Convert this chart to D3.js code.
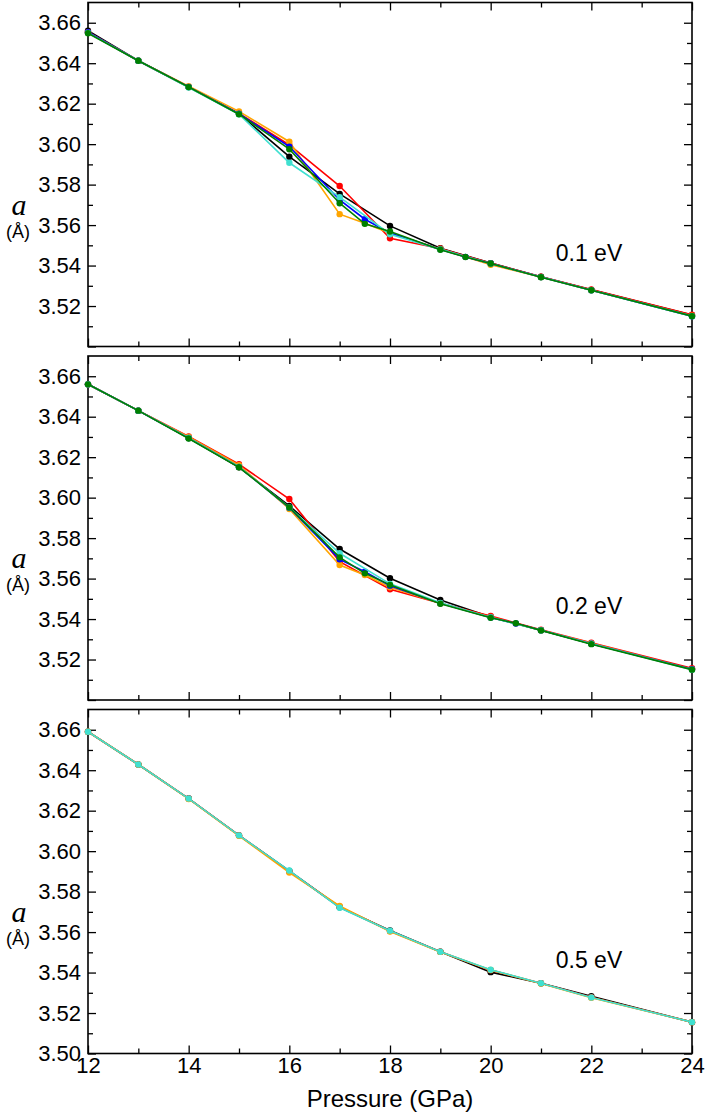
<!DOCTYPE html>
<html>
<head>
<meta charset="utf-8">
<script src="https://cdn.jsdelivr.net/npm/d3@7"></script>
<style>
  body { margin: 0; background: #fff; }
  svg { display: block; }
  .tick text { font-family: "Liberation Sans", Arial, sans-serif; font-size: 22px; fill: #000; }
  .tick line { stroke: #000; stroke-width: 1.3; }
  .domain { display: none; }
</style>
</head>
<body>
<svg id="chart"></svg>
<script>
// panel layout
var width = 706, height = 1114;
var left = 88, plotW = 604;
var tops = [2.5, 356, 709.5];
var plotH = 344;

// axis ticks
var xTicks = [12, 14, 16, 18, 20, 22, 24];
var xMinor = [13, 15, 17, 19, 21, 23];
var yTicks = [3.50, 3.52, 3.54, 3.56, 3.58, 3.60, 3.62, 3.64, 3.66];
var yMinor = [3.51, 3.53, 3.55, 3.57, 3.59, 3.61, 3.63, 3.65];

// pressure grids (GPa)
var pFull = [12, 13, 14, 15, 16, 17, 18, 19, 20, 21, 22, 24];
var pOr1  = [12, 13, 14, 15, 16, 17, 17.5, 18, 19, 20, 21, 22, 24];
var pFine1 = [12, 13, 14, 15, 16, 17, 17.5, 18, 19, 19.5, 20, 21, 22, 24];
var pFine2 = [12, 13, 14, 15, 16, 17, 17.5, 18, 19, 20, 20.5, 21, 22, 24];

// 0.1 eV
var black1  = [3.6561, 3.6412, 3.6282, 3.6150, 3.5938, 3.5754, 3.5596, 3.5486, 3.5412, 3.5345, 3.5280, 3.5155];
var red1    = [3.6553, 3.6412, 3.6282, 3.6152, 3.5996, 3.5793, 3.5535, 3.5484, 3.5412, 3.5345, 3.5282, 3.5157];
var orange1 = [3.6553, 3.6412, 3.6286, 3.6162, 3.6012, 3.5654, 3.5609, 3.5560, 3.5482, 3.5404, 3.5343, 3.5278, 3.5152];
var blue1   = [3.6553, 3.6412, 3.6283, 3.6150, 3.5988, 3.5724, 3.5629, 3.5561, 3.5480, 3.5443, 3.5410, 3.5343, 3.5278, 3.5150];
var cyan1   = [3.6550, 3.6412, 3.6280, 3.6148, 3.5908, 3.5738, 3.5555, 3.5480, 3.5410, 3.5343, 3.5278, 3.5150];
var green1  = [3.6548, 3.6412, 3.6282, 3.6148, 3.5975, 3.5708, 3.5606, 3.5568, 3.5478, 3.5442, 3.5410, 3.5342, 3.5278, 3.5150];

// 0.2 eV
var black2  = [3.6560, 3.6430, 3.6295, 3.6150, 3.5959, 3.5746, 3.5602, 3.5494, 3.5410, 3.5345, 3.5278, 3.5153];
var red2    = [3.6560, 3.6430, 3.6302, 3.6165, 3.5993, 3.5684, 3.5547, 3.5478, 3.5415, 3.5347, 3.5283, 3.5157];
var orange2 = [3.6560, 3.6430, 3.6300, 3.6160, 3.5944, 3.5667, 3.5618, 3.5557, 3.5478, 3.5410, 3.5345, 3.5280, 3.5152];
var blue2   = [3.6560, 3.6430, 3.6295, 3.6152, 3.5950, 3.5695, 3.5634, 3.5565, 3.5478, 3.5408, 3.5378, 3.5345, 3.5278, 3.5152];
var cyan2   = [3.6560, 3.6430, 3.6295, 3.6152, 3.5952, 3.5725, 3.5574, 3.5480, 3.5408, 3.5345, 3.5278, 3.5150];
var green2  = [3.6560, 3.6430, 3.6292, 3.6150, 3.5952, 3.5705, 3.5626, 3.5569, 3.5476, 3.5406, 3.5379, 3.5344, 3.5276, 3.5150];

// 0.5 eV
var black3  = [3.6590, 3.6428, 3.6260, 3.6078, 3.5902, 3.5723, 3.5608, 3.5503, 3.5402, 3.5347, 3.5283, 3.5155];
var red3    = [3.6590, 3.6428, 3.6260, 3.6078, 3.5900, 3.5725, 3.5605, 3.5503, 3.5412, 3.5347, 3.5278, 3.5155];
var orange3 = [3.6590, 3.6428, 3.6258, 3.6076, 3.5894, 3.5729, 3.5603, 3.5502, 3.5413, 3.5346, 3.5276, 3.5155];
var cyan3   = [3.6590, 3.6428, 3.6260, 3.6078, 3.5904, 3.5720, 3.5607, 3.5503, 3.5414, 3.5347, 3.5277, 3.5155];

var panelLabels = ["0.1 eV", "0.2 eV", "0.5 eV"];

var panels = [
  [[pFull, black1, "#000000"], [pFull, red1, "#ff0000"], [pOr1, orange1, "#ffa500"],
   [pFine1, blue1, "#0000ff"], [pFull, cyan1, "#40e0d0"], [pFine1, green1, "#008000"]],
  [[pFull, black2, "#000000"], [pFull, red2, "#ff0000"], [pOr1, orange2, "#ffa500"],
   [pFine2, blue2, "#0000ff"], [pFull, cyan2, "#40e0d0"], [pFine2, green2, "#008000"]],
  [[pFull, black3, "#000000"], [pFull, red3, "#ff0000"], [pFull, orange3, "#ffa500"],
   [pFull, cyan3, "#40e0d0"]]
];

var svg = d3.select("#chart").attr("width", width).attr("height", height);

var x = d3.scaleLinear().domain([12, 24]).range([0, plotW]);
var y = d3.scaleLinear().domain([3.50, 3.67]).range([plotH, 0]);

var line = d3.line()
    .x(function(d) { return x(d[0]); })
    .y(function(d) { return y(d[1]); });

var fmt = d3.format(".2f");

panels.forEach(function(series, k) {
    var last = (k == panels.length - 1);
    var g = svg.append("g")
        .attr("transform", "translate(" + left + "," + tops[k] + ")");

    // minor ticks, all four sides
    g.append("g").call(d3.axisLeft(y).tickValues(yMinor).tickSize(-5).tickFormat(""));
    g.append("g").attr("transform", "translate(" + plotW + ",0)")
        .call(d3.axisRight(y).tickValues(yMinor).tickSize(-5).tickFormat(""));
    g.append("g").call(d3.axisTop(x).tickValues(xMinor).tickSize(-5).tickFormat(""));
    g.append("g").attr("transform", "translate(0," + plotH + ")")
        .call(d3.axisBottom(x).tickValues(xMinor).tickSize(-5).tickFormat(""));

    // major ticks
    g.append("g")
        .call(d3.axisLeft(y).tickValues(yTicks).tickSize(-8).tickPadding(7)
            .tickFormat(function(d) { return (!last && d < 3.51) ? "" : fmt(d); }));
    g.append("g").attr("transform", "translate(" + plotW + ",0)")
        .call(d3.axisRight(y).tickValues(yTicks).tickSize(-8).tickFormat(""));
    g.append("g").call(d3.axisTop(x).tickValues(xTicks).tickSize(-8).tickFormat(""));
    g.append("g").attr("transform", "translate(0," + plotH + ")")
        .call(d3.axisBottom(x).tickValues(xTicks).tickSize(-8).tickPadding(4)
            .tickFormat(last ? d3.format("d") : ""));

    // frame
    g.append("rect")
        .attr("width", plotW).attr("height", plotH)
        .attr("fill", "none").attr("stroke", "#000").attr("stroke-width", 1.6);

    // series
    series.forEach(function(s) {
        var pts = s[0].map(function(p, i) { return [p, s[1][i]]; });
        g.append("path")
            .datum(pts)
            .attr("d", line)
            .attr("fill", "none")
            .attr("stroke", s[2])
            .attr("stroke-width", 1.6);
        g.selectAll(null)
            .data(pts)
            .enter().append("circle")
            .attr("cx", function(d) { return x(d[0]); })
            .attr("cy", function(d) { return y(d[1]); })
            .attr("r", 3.2)
            .attr("fill", s[2]);
    });

    g.append("text")
        .attr("x", 589 - left)
        .attr("y", 258)
        .attr("text-anchor", "middle")
        .style("font-family", "Liberation Sans, Arial, sans-serif")
        .style("font-size", "23px")
        .text(panelLabels[k]);

    // y-axis label
    g.append("text")
        .attr("x", 19 - left)
        .attr("y", 212)
        .attr("text-anchor", "middle")
        .style("font-family", "Liberation Serif, Times New Roman, serif")
        .style("font-style", "italic")
        .style("font-size", "30px")
        .text("a");
    g.append("text")
        .attr("x", 18 - left)
        .attr("y", 235)
        .attr("text-anchor", "middle")
        .style("font-family", "Liberation Sans, Arial, sans-serif")
        .style("font-size", "18px")
        .text("(Å)");
});

svg.append("text")
    .attr("x", left + plotW / 2)
    .attr("y", 1107)
    .attr("text-anchor", "middle")
    .style("font-family", "Liberation Sans, Arial, sans-serif")
    .style("font-size", "24px")
    .text("Pressure (GPa)");
</script>
</body>
</html>
